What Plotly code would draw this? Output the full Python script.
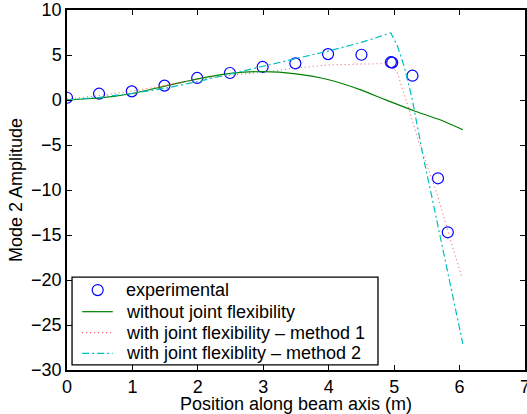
import plotly.graph_objects as go

# experimental measurements
exp_x = [0.0, 0.49, 0.99, 1.49, 1.99, 2.49, 2.99, 3.49, 3.99, 4.5, 4.95, 4.97, 5.28, 5.67, 5.82]
exp_y = [0.25, 0.7, 0.96, 1.6, 2.45, 3.0, 3.67, 4.07, 5.1, 5.03, 4.2, 4.15, 2.7, -8.7, -14.7]

# model without joint flexibility
rigid_x = [0, 0.5, 1.0, 1.5, 2.0, 2.5, 3.0, 3.5, 4.0, 4.5, 4.8, 5.0, 5.3, 5.7, 6.05]
rigid_y = [0, 0.22, 0.72, 1.55, 2.35, 2.95, 3.15, 2.9, 2.25, 1.1, 0.22, -0.35, -1.2, -2.2, -3.3]

# joint flexibility, method 1
m1_x = [0, 0.5, 1.0, 1.5, 2.0, 2.5, 3.0, 3.5, 4.0, 4.5, 4.87, 5.04, 5.17, 5.37, 5.65, 5.88, 6.04]
m1_y = [0.1, 0.5, 1.0, 1.6, 2.3, 2.75, 3.1, 3.55, 3.9, 4.0, 4.05, 3.2, 0.3, -4.5, -10.3, -16.0, -19.8]

# joint flexibility, method 2
m2_x = [0, 0.5, 1.0, 1.5, 2.0, 2.5, 3.0, 3.5, 4.0, 4.5, 4.95, 5.05, 5.15, 5.27, 5.45, 5.58, 5.81, 6.05]
m2_y = [0, 0.3, 0.75, 1.3, 2.05, 2.9, 3.8, 4.6, 5.45, 6.4, 7.45, 6.0, 3.8, 0.3, -6.5, -10.9, -18.9, -27.1]

series_names = [
    "experimental",
    "without joint flexibility",
    "with joint flexibility \u2013 method 1",
    "with joint flexiblity \u2013 method 2",
]

FONT = "Liberation Sans, Arial, Helvetica, sans-serif"
FS = 18
BLUE = "blue"
GREEN = "rgb(0,128,0)"
RED = "rgb(255,80,80)"
CYAN = "rgb(0,191,191)"
DOT = "1px,3px"
DASHDOT = "7px,3px,2px,3px"

fig = go.Figure()
fig.add_trace(go.Scatter(
    x=exp_x, y=exp_y, mode="markers", name=series_names[0],
    marker=dict(symbol="circle-open", size=11, color=BLUE, line=dict(width=1.2, color=BLUE))
))
fig.add_trace(go.Scatter(
    x=rigid_x, y=rigid_y, mode="lines", name=series_names[1],
    line=dict(color=GREEN, width=1.2, shape="spline", smoothing=0.6)
))
fig.add_trace(go.Scatter(
    x=m1_x, y=m1_y, mode="lines", name=series_names[2],
    line=dict(color=RED, width=1, dash=DOT)
))
fig.add_trace(go.Scatter(
    x=m2_x, y=m2_y, mode="lines", name=series_names[3],
    line=dict(color=CYAN, width=1.2, dash=DASHDOT)
))

# legend drawn by hand so the row spacing matches the MATLAB one
leg_rows = [0.222, 0.162, 0.104, 0.046]
shapes = [dict(type="rect", xref="paper", yref="paper", x0=0.011, x1=0.679, y0=0.014, y1=0.258,
               fillcolor="white", line=dict(color="black", width=1.3))]
shapes.append(dict(type="circle", xref="paper", yref="paper", xsizemode="pixel", ysizemode="pixel",
                   xanchor=0.067, yanchor=leg_rows[0], x0=-5.5, x1=5.5, y0=-5.5, y1=5.5,
                   line=dict(color=BLUE, width=1.2)))
for row, color, dash in zip(leg_rows[1:], [GREEN, RED, CYAN], ["solid", DOT, DASHDOT]):
    shapes.append(dict(type="line", xref="paper", yref="paper", x0=0.033, x1=0.100, y0=row, y1=row,
                       line=dict(color=color, width=1.2, dash=dash)))
annotations = [dict(text=name, xref="paper", yref="paper", x=0.1245, y=row, xanchor="left",
                    yanchor="middle", showarrow=False, font=dict(family=FONT, size=FS, color="black"))
               for name, row in zip(series_names, leg_rows)]

axis_common = dict(
    showgrid=False, zeroline=False, showline=True, linecolor="black", linewidth=1.5,
    mirror="allticks", ticks="inside", ticklen=5, tickcolor="black", tickwidth=1,
    tickfont=dict(family=FONT, size=FS, color="black"), automargin=False,
    ticklabeloverflow="allow",
)

fig.update_layout(
    width=527, height=414,
    margin=dict(l=67, r=2, t=10, b=44),
    paper_bgcolor="white", plot_bgcolor="white",
    font=dict(family=FONT, size=FS, color="black"),
    showlegend=False,
    shapes=shapes,
    annotations=annotations,
    xaxis=dict(range=[0, 7], dtick=1,
               title=dict(text="Position along beam axis (m)", standoff=0,
                          font=dict(family=FONT, size=FS)),
               **axis_common),
    yaxis=dict(range=[-30, 10], dtick=5,
               title=dict(text="Mode 2 Amplitude", standoff=4,
                          font=dict(family=FONT, size=FS)),
               **axis_common),
)

# drop the default 8px body margin so the figure fills the window exactly
fig.write_html("out.html", config={"displayModeBar": False},
               post_script="document.body.style.margin = '0';")
